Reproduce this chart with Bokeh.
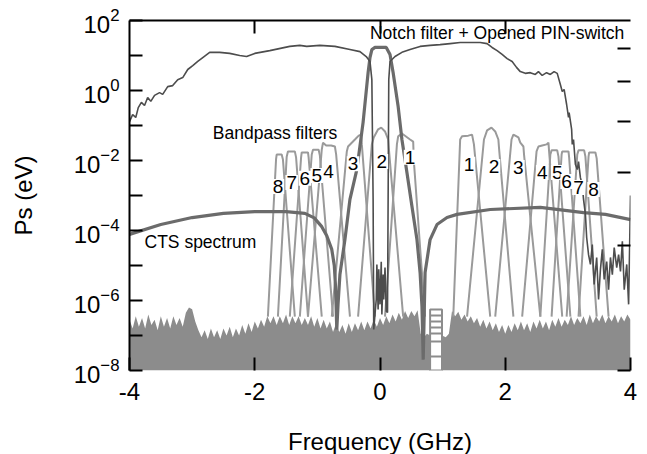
import numpy as np
from bokeh.plotting import figure
from bokeh.models import Range1d, LinearAxis, FixedTicker
from bokeh.embed import file_html
from bokeh.resources import INLINE
from bokeh.core.properties import value

FONT = "Liberation Sans"

# ---------------- data (frequency in GHz, power as log10(Ps / eV)) ----------------
x_ticks = [-4, -2, 0, 2, 4]
x_tick_labels = {-4: "-4", -2: "-2", 0: "0", 2: "2", 4: "4"}
y_major = [1e-8, 1e-6, 1e-4, 1e-2, 1e0, 1e2]
y_minor = [1e-7, 1e-5, 1e-3, 1e-1, 1e1]

notch_f = [-4.00, -3.95, -3.90, -3.86, -3.81, -3.76, -3.71, -3.66, -3.60, -3.52, -3.47, -3.39, -3.31, -3.23,
           -3.15, -3.07, -2.99, -2.91, -2.83, -2.72, -2.56, -2.40, -2.24, -2.13, -2.00, -1.76, -1.44, -1.28,
           -1.17, -0.96, -0.72, -0.48, -0.32, -0.22, -0.16, -0.13, -0.11, -0.10, -0.06, -0.05, -0.03, -0.02,
           0.00, 0.02, 0.03, 0.05, 0.06, 0.08, 0.10, 0.12, 0.14, 0.16, 0.24, 0.35, 0.48, 0.64, 0.80, 0.96,
           1.12, 1.28, 1.44, 1.60, 1.71, 1.79, 1.87, 1.95, 2.03, 2.11, 2.18, 2.24, 2.32, 2.40, 2.48, 2.53,
           2.59, 2.66, 2.72, 2.78, 2.83, 2.88, 2.91, 2.94, 2.98, 3.01, 3.02, 3.06, 3.07, 3.09, 3.12, 3.15,
           3.17, 3.20, 3.23, 3.25, 3.28, 3.30, 3.33, 3.36, 3.39, 3.42, 3.46, 3.49, 3.52, 3.55, 3.58, 3.62,
           3.65, 3.68, 3.71, 3.74, 3.78, 3.81, 3.84, 3.87, 3.90, 3.94, 3.97, 4.00]
notch_lg = [-0.89, -0.69, -0.77, -0.49, -0.34, -0.43, -0.20, -0.31, -0.14, -0.06, -0.11, 0.11, 0.14, 0.31,
            0.37, 0.60, 0.71, 0.83, 0.94, 1.09, 1.09, 1.06, 1.00, 0.97, 1.06, 1.14, 1.26, 1.29,
            1.26, 1.29, 1.26, 1.17, 1.11, 0.97, 0.83, 0.31, -3.11, -6.83, -5.97, -4.97, -6.26, -5.11,
            -6.11, -4.89, -6.40, -5.26, -5.97, -5.06, -6.31, -6.34, 0.31, 0.83, 0.97, 1.09, 1.17, 1.26, 1.29, 1.31,
            1.34, 1.37, 1.37, 1.37, 1.34, 1.23, 1.14, 1.03, 0.91, 0.83, 0.66, 0.54, 0.49, 0.51, 0.46, 0.54,
            0.43, 0.51, 0.46, 0.54, 0.49, 0.17, -0.03, 0.03, -0.40, -0.77, -0.63, -1.11, -1.54, -1.40, -2.11, -2.26,
            -2.03, -2.49, -2.69, -3.11, -3.54, -4.20, -4.69, -4.97, -4.40, -5.54, -4.77, -5.97, -5.11, -4.54, -5.40, -4.89,
            -5.69, -4.77, -5.26, -4.49, -5.06, -4.69, -5.17, -4.31, -5.69, -4.97, -6.11, -3.00]

cts_f = [-4.00, -3.50, -3.00, -2.50, -2.00, -1.50, -1.20, -1.05, -0.93, -0.85, -0.77, -0.73, -0.71, -0.69,
         -0.67, -0.64, -0.56, -0.48, -0.37, -0.27, -0.19, -0.16, -0.13, -0.08, 0.10, 0.16, 0.21, 0.29, 0.35,
         0.43, 0.51, 0.59, 0.64, 0.67, 0.69, 0.72, 0.80, 0.91, 1.07, 1.23, 1.76, 2.56, 3.25, 3.60, 4.00]
cts_lg = [-4.11, -3.83, -3.63, -3.51, -3.46, -3.46, -3.51, -3.64, -3.89, -4.15, -4.54, -5.00, -5.60, -6.83,
          -6.11, -5.26, -4.26, -3.11, -2.26, -0.91, 0.51, 0.94, 1.17, 1.23, 1.23, 1.03, 0.51, -0.46, -1.40,
          -2.34, -3.31, -4.26, -5.20, -6.17, -7.69, -5.20, -4.26, -3.83, -3.63, -3.54, -3.40, -3.34, -3.49, -3.54, -3.69]

bp_f = [
    [-1.79, -1.66, -1.65, -1.57, -1.55, -1.36],
    [-1.63, -1.49, -1.47, -1.36, -1.34, -1.15],
    [-1.44, -1.26, -1.25, -1.15, -1.14, -0.93],
    [-1.28, -1.09, -1.07, -0.98, -0.96, -0.75],
    [-1.15, -0.93, -0.91, -0.86, -0.78, -0.72, -0.70, -0.48],
    [-0.77, -0.53, -0.51, -0.40, -0.34, -0.30, -0.29, -0.08],
    [-0.35, -0.13, -0.10, -0.03, 0.02, 0.08, 0.13, 0.14, 0.37],
    [0.08, 0.27, 0.29, 0.35, 0.48, 0.53, 0.54, 0.72],
    [1.17, 1.28, 1.31, 1.41, 1.47, 1.50, 1.76],
    [1.39, 1.66, 1.71, 1.78, 1.84, 1.89, 1.90, 2.13],
    [1.84, 2.10, 2.13, 2.21, 2.24, 2.29, 2.30, 2.56],
    [2.27, 2.50, 2.53, 2.59, 2.66, 2.69, 2.70, 2.91],
    [2.56, 2.72, 2.74, 2.83, 2.85, 3.04],
    [2.74, 2.90, 2.91, 3.01, 3.02, 3.20],
    [2.98, 3.15, 3.17, 3.26, 3.28, 3.46],
    [3.17, 3.33, 3.34, 3.44, 3.46, 3.65],
]
bp_lg = [
    [-6.46, -1.97, -1.83, -1.83, -1.97, -6.46],
    [-6.46, -1.89, -1.74, -1.74, -1.91, -6.46],
    [-6.46, -1.91, -1.77, -1.77, -1.91, -6.46],
    [-6.46, -1.83, -1.69, -1.69, -1.86, -6.46],
    [-6.46, -1.69, -1.49, -1.57, -1.57, -1.60, -1.83, -6.46],
    [-6.46, -1.74, -1.60, -1.40, -1.29, -1.26, -1.54, -6.46],
    [-6.46, -1.54, -1.34, -1.11, -1.06, -1.17, -1.40, -1.63, -6.46],
    [-6.46, -1.54, -1.31, -1.23, -1.40, -1.46, -2.00, -6.46],
    [-6.46, -1.40, -1.31, -1.29, -1.26, -1.54, -6.46],
    [-6.46, -1.40, -1.14, -1.06, -1.17, -1.40, -1.63, -6.46],
    [-6.46, -1.40, -1.26, -1.34, -1.49, -1.60, -1.83, -6.46],
    [-6.46, -1.74, -1.60, -1.57, -1.54, -1.49, -1.74, -6.46],
    [-6.46, -1.83, -1.71, -1.71, -1.89, -6.46],
    [-6.46, -1.83, -1.74, -1.74, -1.91, -6.46],
    [-6.46, -1.83, -1.71, -1.71, -1.89, -6.46],
    [-6.46, -1.89, -1.77, -1.77, -1.94, -6.46],
]
bp_names = ["8", "7", "6", "5", "4", "3", "2", "1", "1", "2", "3", "4", "5", "6", "7", "8"]
bp_label_f = [-1.63, -1.41, -1.20, -1.01, -0.82, -0.43, 0.03, 0.48, 1.42, 1.82, 2.21, 2.59, 2.83, 2.98, 3.17, 3.41]
bp_label_lg = [-2.74, -2.63, -2.51, -2.43, -2.31, -2.09, -2.03, -1.91, -2.11, -2.17, -2.20, -2.34, -2.34, -2.60, -2.77, -2.83]

noise_l_f = [-4.00, -3.95, -3.90, -3.85, -3.80, -3.75, -3.70, -3.65, -3.60, -3.55, -3.50, -3.45, -3.40, -3.35,
             -3.30, -3.25, -3.20, -3.15, -3.10, -3.05, -3.00, -2.95, -2.90, -2.85, -2.80, -2.75, -2.70, -2.65,
             -2.60, -2.55, -2.50, -2.45, -2.40, -2.35, -2.30, -2.25, -2.20, -2.15, -2.10, -2.05, -2.00, -1.95,
             -1.90, -1.85, -1.80, -1.75, -1.70, -1.65, -1.60, -1.55, -1.50, -1.45, -1.40, -1.35, -1.30, -1.25,
             -1.20, -1.15, -1.10, -1.05, -1.00, -0.95, -0.90, -0.85, -0.80, -0.75, -0.70, -0.65, -0.60, -0.55,
             -0.50, -0.45, -0.40, -0.35, -0.30, -0.25, -0.20, -0.15, -0.10, -0.05, 0.00, 0.05, 0.10, 0.15,
             0.20, 0.25, 0.30, 0.35, 0.40, 0.45, 0.50, 0.55, 0.60, 0.65, 0.70, 0.75, 0.80]
noise_l_lg = [-6.55, -6.80, -6.45, -6.75, -6.50, -6.80, -6.40, -6.70, -6.55, -6.85, -6.45, -6.75, -6.50, -6.80,
              -6.45, -6.70, -6.50, -6.75, -6.35, -6.20, -6.25, -6.60, -6.85, -7.05, -6.85, -7.10, -6.80, -7.05,
              -6.85, -7.10, -6.80, -7.00, -6.75, -7.05, -6.80, -7.00, -6.70, -6.95, -6.65, -6.90, -6.60, -6.80,
              -6.55, -6.75, -6.45, -6.65, -6.45, -6.70, -6.45, -6.65, -6.40, -6.70, -6.45, -6.65, -6.45, -6.70,
              -6.50, -6.70, -6.45, -6.75, -6.50, -6.80, -6.55, -6.80, -6.60, -6.90, -6.65, -6.90, -6.70, -6.95,
              -6.65, -6.90, -6.65, -6.85, -6.60, -6.85, -6.60, -6.80, -6.55, -6.75, -6.50, -6.70, -6.45, -6.65,
              -6.40, -6.60, -6.35, -6.55, -6.30, -6.50, -6.30, -6.45, -6.28, -6.95, -7.05, -6.95, -7.00]
noise_r_f = [0.99, 1.05, 1.10, 1.15, 1.20, 1.25, 1.30, 1.35, 1.40, 1.45, 1.50, 1.55, 1.60, 1.65, 1.70, 1.75,
             1.80, 1.85, 1.90, 1.95, 2.00, 2.05, 2.10, 2.15, 2.20, 2.25, 2.30, 2.35, 2.40, 2.45, 2.50, 2.55,
             2.60, 2.65, 2.70, 2.75, 2.80, 2.85, 2.90, 2.95, 3.00, 3.05, 3.10, 3.15, 3.20, 3.25, 3.30, 3.35,
             3.40, 3.45, 3.50, 3.55, 3.60, 3.65, 3.70, 3.75, 3.80, 3.85, 3.90, 3.95, 4.00]
noise_r_lg = [-7.00, -7.05, -6.95, -6.30, -6.45, -6.32, -6.55, -6.40, -6.60, -6.45, -6.65, -6.50, -6.75, -6.55,
              -6.80, -6.60, -6.85, -6.65, -6.90, -6.70, -6.95, -6.70, -6.90, -6.65, -6.85, -6.60, -6.85, -6.65,
              -6.90, -6.60, -6.80, -6.55, -6.80, -6.60, -6.85, -6.55, -6.75, -6.50, -6.75, -6.55, -6.70, -6.45,
              -6.70, -6.50, -6.65, -6.45, -6.70, -6.40, -6.65, -6.45, -6.60, -6.40, -6.65, -6.45, -6.60, -6.40,
              -6.65, -6.45, -6.60, -6.40, -6.55]

ladder_f = [0.80, 0.99]
ladder_top_lg = -6.26
ladder_rungs_lg = [-6.43, -6.60, -6.77, -6.94, -7.17, -7.60]

notes = ["Notch filter + Opened PIN-switch", "Bandpass filters", "CTS spectrum"]
notes_f = [-0.16, -2.67, -3.76]
notes_lg = [1.657, -1.20, -4.34]

P = lambda lg: [10.0 ** v for v in lg]

# ---------------- figure ----------------
p = figure(frame_width=501, frame_height=350, x_range=Range1d(-4, 4), y_range=Range1d(1e-8, 1e2),
           y_axis_type="log", output_backend="svg", toolbar_location=None,
           min_border_left=129, min_border_right=8, min_border_top=20, min_border_bottom=75)
p.outline_line_color = None
p.grid.visible = False

NOISE = "#8c8c8c"
p.varea(x=noise_l_f, y1=1e-8, y2=P(noise_l_lg), fill_color=NOISE)
p.varea(x=noise_r_f, y1=1e-8, y2=P(noise_r_lg), fill_color=NOISE)
p.quad(left=[ladder_f[0]], right=[ladder_f[1]], bottom=[1e-8], top=[10 ** ladder_top_lg],
       fill_color="white", line_color=NOISE, line_width=2)
p.segment(x0=[ladder_f[0]] * len(ladder_rungs_lg), x1=[ladder_f[1]] * len(ladder_rungs_lg),
          y0=P(ladder_rungs_lg), y1=P(ladder_rungs_lg), line_color=NOISE, line_width=2)

p.multi_line(xs=bp_f, ys=[P(l) for l in bp_lg], line_color="#9a9a9a", line_width=2)
p.line(cts_f, P(cts_lg), line_color="#6b6b6b", line_width=3.2)
p.line(notch_f, P(notch_lg), line_color="#4d4d4d", line_width=1.6)

p.text(x=bp_label_f, y=P(bp_label_lg), text=bp_names, text_font=value(FONT), text_font_size="19px",
       text_align="center", text_baseline="middle", text_color="black",
       background_fill_color="white", padding=1)
p.text(x=notes_f, y=P(notes_lg), text=notes, text_font=value(FONT), text_font_size="17.5px",
       text_align="left", text_baseline="middle", text_color="black")

# axes
xa = p.xaxis[0]
xa.ticker = FixedTicker(ticks=x_ticks)
xa.major_label_overrides = x_tick_labels
xa.axis_line_color = None
xa.major_tick_in = 13
xa.major_tick_out = 0
xa.major_tick_line_width = 2
xa.minor_tick_line_color = None
xa.axis_label = "Frequency (GHz)"

ya = p.yaxis[0]
ya.ticker = FixedTicker(ticks=y_major, minor_ticks=y_minor)
ya.axis_line_width = 2
ya.major_tick_in = 13
ya.major_tick_out = 0
ya.minor_tick_in = 13
ya.minor_tick_out = 0
ya.major_tick_line_width = 2
ya.minor_tick_line_width = 2
ya.axis_label = "Ps (eV)"

for ax in (xa, ya):
    ax.major_label_text_font = FONT
    ax.major_label_text_font_size = "24px"
    ax.major_label_text_color = "black"
    ax.axis_label_text_font = FONT
    ax.axis_label_text_font_size = "24px"
    ax.axis_label_text_font_style = "normal"
    ax.axis_label_text_color = "black"
xa.major_label_standoff = 12
xa.axis_label_standoff = 25
ya.major_label_standoff = 10
ya.axis_label_standoff = 34

top = LinearAxis(ticker=FixedTicker(ticks=[-2, 0, 2]), major_tick_in=13, major_tick_out=0,
                 major_tick_line_width=2, minor_tick_line_color=None, axis_line_width=2,
                 major_label_text_font_size="1px", major_label_text_color=None, major_label_standoff=0)
p.add_layout(top, "above")

p.extra_y_ranges = {"r": Range1d(0, 7)}
right = LinearAxis(y_range_name="r", ticker=FixedTicker(ticks=[1, 2, 3, 4, 5, 6]), major_tick_in=13,
                   major_tick_out=0, major_tick_line_width=2, minor_tick_line_color=None, axis_line_width=2,
                   major_label_text_font_size="1px", major_label_text_color=None, major_label_standoff=0)
p.add_layout(right, "right")

open("out.html", "w").write(file_html(p, INLINE))
